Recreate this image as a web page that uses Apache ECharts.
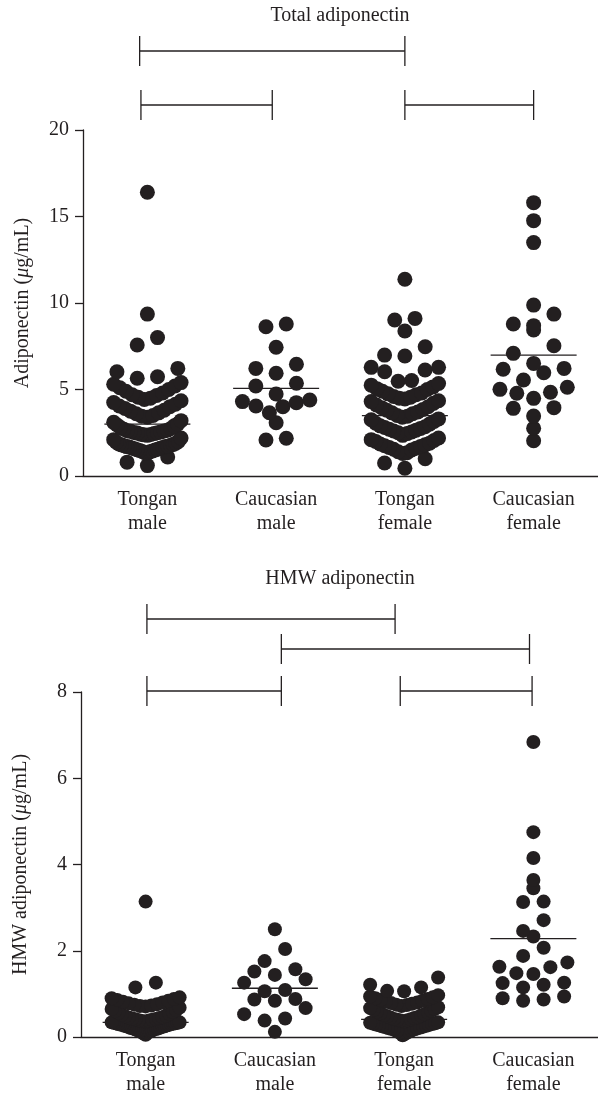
<!DOCTYPE html>
<html>
<head>
<meta charset="utf-8">
<script src="https://cdn.jsdelivr.net/npm/echarts@6/dist/echarts.min.js"></script>
<style>
html,body{margin:0;padding:0;background:#fff;}
#chart{width:598px;height:1101px;}
</style>
</head>
<body>
<div id="chart"></div>
<script>
// ---------------- DATA ----------------
const categories = ['Tongan\nmale', 'Caucasian\nmale', 'Tongan\nfemale', 'Caucasian\nfemale'];

// Total adiponectin (µg/mL)
const totalTonganMale = [16.4, 9.36, 8.0, 7.57, 6.22, 6.03, 5.74, 5.65,
  5.4, 5.3, 5.2, 5.1, 5.0, 4.9, 4.8, 4.7, 4.65, 4.55, 4.5, 4.42,
  4.35, 4.25, 4.15, 4.05, 4.0, 3.9, 3.8, 3.75, 3.65, 3.6, 3.5, 3.45, 3.4,
  3.2, 3.1, 3.0, 2.95, 2.9, 2.8, 2.75, 2.7, 2.65, 2.6, 2.55, 2.5, 2.45, 2.4, 2.35, 2.38, 2.42, 2.48, 2.52, 2.58, 2.62,
  2.2, 2.1, 2.0, 1.95, 1.9, 1.85, 1.8, 1.75, 1.7, 1.7, 1.65, 1.6, 1.55, 1.5, 1.45, 1.4, 1.3,
  1.35, 1.42, 1.48, 1.52, 1.58, 1.62, 1.68, 1.72, 1.78, 1.82,
  1.1, 0.8, 0.6];
const totalCaucasianMale = [8.63, 8.79, 7.44, 5.94, 6.46, 6.22, 5.2, 5.36, 4.39, 4.24, 4.01, 3.66, 4.05, 4.3, 4.74, 3.08, 2.08, 2.18];
const totalTonganFemale = [11.37, 9.11, 9.02, 8.38, 7.47, 6.99, 6.94, 6.28, 6.28, 6.13, 6.03, 5.52, 5.48,
  5.35, 5.25, 5.15, 5.05, 5.0, 4.9, 4.8, 4.75, 4.7, 4.6, 4.55, 4.5, 4.45,
  4.35, 4.3, 4.2, 4.1, 4.0, 3.95, 3.85, 3.8, 3.7, 3.65, 3.6, 3.5, 3.45, 3.4,
  3.3, 3.25, 3.15, 3.05, 3.0, 2.9, 2.85, 2.8, 2.75, 2.7, 2.65, 2.6, 2.55, 2.5, 2.45, 2.35,
  2.2, 2.1, 2.05, 2.0, 1.9, 1.85, 1.8, 1.75, 1.7, 1.65, 1.6, 1.55, 1.5, 1.4, 1.35, 1.3,
  1.0, 0.75, 0.45];
const totalCaucasianFemale = [15.8, 14.76, 13.49, 9.88, 9.36, 8.69, 8.79, 8.44, 7.53, 7.09, 6.51, 6.17, 5.97, 6.22,
  5.55, 5.01, 4.78, 4.84, 5.13, 4.49, 3.91, 3.95, 3.47, 2.76, 2.04];
const totalMeans = [3.0, 5.07, 3.49, 6.99];

// HMW adiponectin (µg/mL)
const hmwTonganMale = [3.14, 1.26, 1.15,
  0.71, 0.72, 0.73, 0.75, 0.76, 0.78, 0.8, 0.82, 0.84, 0.86, 0.88, 0.9, 0.92,
  0.36, 0.37, 0.38, 0.39, 0.4, 0.41, 0.42, 0.43, 0.44, 0.45, 0.46, 0.48, 0.5, 0.52, 0.54, 0.56, 0.58, 0.6, 0.62, 0.65, 0.68,
  0.05, 0.08, 0.1, 0.12, 0.13, 0.14, 0.15, 0.16, 0.17, 0.18, 0.19, 0.2, 0.2, 0.21, 0.22, 0.23, 0.24, 0.25, 0.25, 0.26,
  0.27, 0.28, 0.28, 0.29, 0.3, 0.3, 0.31, 0.32, 0.32, 0.33, 0.33, 0.34, 0.34];
const hmwCaucasianMale = [2.5, 2.04, 1.76, 1.57, 1.44, 1.52, 1.26, 1.34, 1.09, 1.06, 0.88, 0.84, 0.87, 0.67, 0.43, 0.38, 0.53, 0.12];
const hmwTonganFemale = [1.38, 1.21, 1.15, 1.07, 1.06,
  0.72, 0.74, 0.75, 0.77, 0.79, 0.8, 0.82, 0.84, 0.86, 0.88, 0.9, 0.92, 0.94, 0.97,
  0.36, 0.38, 0.39, 0.4, 0.41, 0.42, 0.44, 0.45, 0.46, 0.48, 0.5, 0.51, 0.53, 0.55, 0.57, 0.59, 0.61, 0.63, 0.65, 0.67, 0.69,
  0.04, 0.08, 0.1, 0.12, 0.14, 0.15, 0.17, 0.18, 0.19, 0.2, 0.21, 0.22, 0.23, 0.24, 0.25, 0.26, 0.27, 0.28, 0.29, 0.3, 0.31, 0.32, 0.33, 0.34];
const hmwCaucasianFemale = [6.84, 4.75, 4.15, 3.64, 3.45, 3.13, 3.14, 2.71, 2.46, 2.33, 2.07, 1.88, 1.63, 1.48, 1.46, 1.62, 1.73,
  1.15, 1.25, 1.26, 1.21, 0.9, 0.84, 0.87, 0.94];
const hmwMeans = [0.34, 1.13, 0.41, 2.28];

// significance brackets: [from group, to group, row]
const totalBrackets = [[-0.06, 2.0, 1], [-0.05, 0.97, 0], [2.0, 3.0, 0]];
const hmwBrackets = [[0.01, 1.93, 2], [1.05, 2.97, 1], [0.01, 1.05, 0], [1.97, 2.99, 0]];

const totalTicks = { min: 0, max: 20, interval: 5 };
const hmwTicks = { min: 0, max: 8, interval: 2 };

// ---------------- STYLE / LAYOUT ----------------
const FONT = 'Liberation Serif';
const INK = '#231f20';
const FS = 20;
const panels = [
  { title: 'Total adiponectin', yName: 'Adiponectin ({i|\u03bc}g/mL)', groups: [totalTonganMale, totalCaucasianMale, totalTonganFemale, totalCaucasianFemale],
    means: totalMeans, brackets: totalBrackets, ticks: totalTicks,
    grid: { left: 83, top: 130, width: 520, height: 346 }, titleY: 16,
    binSize: 1.05, binOffset: 0.2, dot: 15, rowOffsets: [25, 79] },
  { title: 'HMW adiponectin', yName: 'HMW adiponectin ({i|\u03bc}g/mL)', groups: [hmwTonganMale, hmwCaucasianMale, hmwTonganFemale, hmwCaucasianFemale],
    means: hmwMeans, brackets: hmwBrackets, ticks: hmwTicks,
    grid: { left: 81, top: 692, width: 517, height: 345 }, titleY: 579,
    binSize: 0.35, binOffset: 0, dot: 14, rowOffsets: [1, 43, 73] }
];
const MAX_SPACING = 20.5, MAX_HALF = 34, MEAN_HALF = 43, BRACKET_TICK = 15;

// GraphPad-like column scatter: bin by value, lowest of each bin at centre, others alternate outward
function swarm(values, catIdx, binSize, binOffset, unitPx) {
  const bins = {};
  values.forEach(v => {
    const b = Math.floor((v - binOffset) / binSize + 1e-9);
    (bins[b] = bins[b] || []).push(v);
  });
  const pts = [];
  Object.keys(bins).forEach(k => {
    const arr = bins[k].slice().sort((a, b) => a - b);
    const n = arr.length;
    const s = n > 1 ? Math.min(MAX_SPACING, 2 * MAX_HALF / (n - 1)) : 0;
    const slots = [];
    if (n % 2 === 1) {
      slots.push(0);
      for (let j = 1; slots.length < n; j++) { slots.push(-j * s); if (slots.length < n) slots.push(j * s); }
    } else {
      for (let j = 0; slots.length < n; j++) { slots.push(-(j + 0.5) * s); slots.push((j + 0.5) * s); }
    }
    arr.forEach((v, i) => pts.push([catIdx + slots[i] / unitPx, v]));
  });
  return pts;
}

const option = {
  animation: false,
  backgroundColor: '#ffffff',
  grid: [], xAxis: [], yAxis: [], series: [], graphic: []
};

panels.forEach((p, pi) => {
  const unitPx = p.grid.width / 4;
  option.grid.push(p.grid);
  option.xAxis.push({
    type: 'category', gridIndex: pi, data: categories, boundaryGap: true,
    axisLine: { onZero: false, lineStyle: { color: INK, width: 1.3 } },
    axisTick: { alignWithLabel: true, length: 9, lineStyle: { color: INK, width: 1.3 } },
    axisLabel: { fontFamily: FONT, fontSize: FS, color: INK, lineHeight: 24, margin: 12 },
    splitLine: { show: false }
  });
  option.xAxis.push({ type: 'value', gridIndex: pi, min: -0.5, max: 3.5, show: false,
    axisLine: { onZero: false } });
  option.yAxis.push({
    type: 'value', gridIndex: pi, min: p.ticks.min, max: p.ticks.max, interval: p.ticks.interval,
    axisLine: { show: true, onZero: false, lineStyle: { color: INK, width: 1.3 } },
    axisTick: { show: true, length: 8, lineStyle: { color: INK, width: 1.3 } },
    axisLabel: { fontFamily: FONT, fontSize: FS, color: INK, margin: 14 },
    splitLine: { show: false },
    name: p.yName, nameLocation: 'middle', nameGap: 50, nameRotate: 90,
    nameTextStyle: { fontFamily: FONT, fontSize: FS, color: INK, rich: { i: { fontFamily: FONT, fontSize: FS, fontStyle: 'italic', color: INK } } }
  });
  const xi = pi * 2 + 1;
  // mean lines
  option.series.push({
    type: 'custom', xAxisIndex: xi, yAxisIndex: pi, z: 1, silent: true,
    data: p.means.map((m, i) => [i, m]),
    renderItem: (params, api) => {
      const c = api.coord([api.value(0), api.value(1)]);
      return { type: 'line', shape: { x1: c[0] - MEAN_HALF, y1: c[1], x2: c[0] + MEAN_HALF, y2: c[1] },
        style: { stroke: INK, lineWidth: 1.3 } };
    }
  });
  // dots
  p.groups.forEach((vals, gi) => {
    option.series.push({
      type: 'scatter', xAxisIndex: xi, yAxisIndex: pi, z: 3, silent: true,
      symbol: 'circle', symbolSize: p.dot,
      itemStyle: { color: INK, opacity: 1 },
      data: swarm(vals, gi, p.binSize, p.binOffset, unitPx)
    });
  });
  // brackets
  option.series.push({
    type: 'custom', xAxisIndex: xi, yAxisIndex: pi, z: 2, silent: true, clip: false,
    data: p.brackets,
    renderItem: (params, api) => {
      const x1 = api.coord([api.value(0), 0])[0];
      const x2 = api.coord([api.value(1), 0])[0];
      const y = params.coordSys.y - p.rowOffsets[api.value(2)];
      const st = { stroke: INK, lineWidth: 1.3 };
      return { type: 'group', children: [
        { type: 'line', shape: { x1: x1, y1: y, x2: x2, y2: y }, style: st },
        { type: 'line', shape: { x1: x1, y1: y - BRACKET_TICK, x2: x1, y2: y + BRACKET_TICK }, style: st },
        { type: 'line', shape: { x1: x2, y1: y - BRACKET_TICK, x2: x2, y2: y + BRACKET_TICK }, style: st }
      ] };
    }
  });
  option.graphic.push({
    type: 'text', x: 340, y: p.titleY,
    style: { text: p.title, fontFamily: FONT, fontSize: FS, fill: INK, textAlign: 'center', textVerticalAlign: 'middle' }
  });
});

const chart = echarts.init(document.getElementById('chart'), null, { renderer: 'canvas' });
chart.setOption(option);
</script>
</body>
</html>
